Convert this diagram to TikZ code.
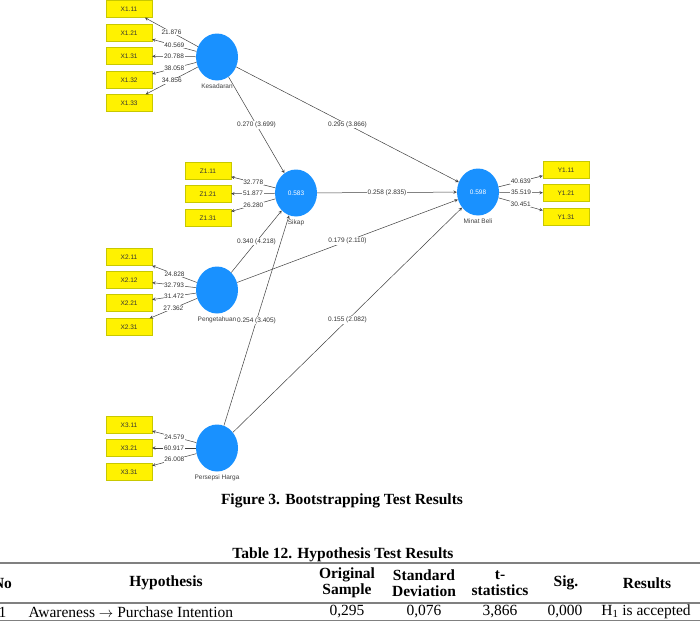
\documentclass[tikz,border=0pt]{standalone}
\usepackage{fontspec}
\setmainfont{Liberation Serif}
\setsansfont{Liberation Sans}
\usetikzlibrary{positioning,arrows,shapes.geometric}

\definecolor{lvblue}{RGB}{25,145,255}
\definecolor{boxline}{RGB}{200,200,0}
\newcommand{\plsfont}{\sffamily\fontsize{6.5}{7.5}\selectfont}
\newcommand{\tabfont}{\fontsize{15.5}{16}\selectfont}

\begin{document}
\begin{tikzpicture}[x=1pt,y=-1pt,
  lv/.style={ellipse,fill=lvblue,minimum width=42pt,minimum height=47pt,inner sep=0pt,text=white,font=\plsfont,label distance=1pt},
  lvname/.style={font=\plsfont,text=black!75},
  ind/.style={rectangle,draw=boxline,fill=yellow,minimum width=46pt,minimum height=17pt,inner sep=0pt,font=\plsfont,text=black!80},
  load/.style={-stealth,black!75,line width=0.5pt},
  path/.style={-stealth,black!75,line width=0.5pt},
  plab/.style={fill=white,inner sep=0.6pt,font=\plsfont,text=black!80},
  rule/.style={gray,line width=1.2pt}]
\useasboundingbox (0,0) rectangle (700,621);

% latent variables
\node[lv,label={[lvname]below:Kesadaran}] (kes) at (217,57) {};
\node[lv,label={[lvname]below:Sikap}] (sikap) at (296,193) {0.583};
\node[lv,label={[lvname]below:Pengetahuan}] (peng) at (217,290) {};
\node[lv,label={[lvname]below:Persepsi Harga}] (harga) at (217,448) {};
\node[lv,label={[lvname]below:Minat Beli}] (minat) at (478,192) {0.598};

% indicators
\node[ind] (x111) at (129,9) {X1.11};
\node[ind] (x121) at (129,33) {X1.21};
\node[ind] (x131) at (129,56) {X1.31};
\node[ind] (x132) at (129,80) {X1.32};
\node[ind] (x133) at (129,103) {X1.33};
\node[ind] (z111) at (208,171) {Z1.11};
\node[ind] (z121) at (208,194) {Z1.21};
\node[ind] (z131) at (208,218) {Z1.31};
\node[ind] (x211) at (129,257) {X2.11};
\node[ind] (x212) at (129,280) {X2.12};
\node[ind] (x221) at (129,303) {X2.21};
\node[ind] (x231) at (129,327) {X2.31};
\node[ind] (x311) at (129,425) {X3.11};
\node[ind] (x321) at (129,448) {X3.21};
\node[ind] (x331) at (129,472) {X3.31};
\node[ind] (y111) at (566,170) {Y1.11};
\node[ind] (y121) at (566,193) {Y1.21};
\node[ind] (y131) at (566,217) {Y1.31};

% outer loadings
\draw[load] (kes) -- node[plab] {21.876} (x111);
\draw[load] (kes) -- node[plab] {40.569} (x121);
\draw[load] (kes) -- node[plab] {20.788} (x131);
\draw[load] (kes) -- node[plab] {38.058} (x132);
\draw[load] (kes) -- node[plab] {34.856} (x133);
\draw[load] (sikap) -- node[plab] {32.778} (z111);
\draw[load] (sikap) -- node[plab] {51.877} (z121);
\draw[load] (sikap) -- node[plab] {26.280} (z131);
\draw[load] (peng) -- node[plab] {24.828} (x211);
\draw[load] (peng) -- node[plab] {32.793} (x212);
\draw[load] (peng) -- node[plab] {31.472} (x221);
\draw[load] (peng) -- node[plab] {27.362} (x231);
\draw[load] (harga) -- node[plab] {24.579} (x311);
\draw[load] (harga) -- node[plab] {60.917} (x321);
\draw[load] (harga) -- node[plab] {26.008} (x331);
\draw[load] (minat) -- node[plab] {40.639} (y111);
\draw[load] (minat) -- node[plab] {35.519} (y121);
\draw[load] (minat) -- node[plab] {30.451} (y131);

% inner model
\draw[path] (kes) -- node[plab] {0.270 (3.699)} (sikap);
\draw[path] (kes) -- node[plab] {0.295 (3.866)} (minat);
\draw[path] (sikap) -- node[plab] {0.258 (2.835)} (minat);
\draw[path] (peng) -- node[plab] {0.340 (4.218)} (sikap);
\draw[path] (peng) -- node[plab] {0.179 (2.110)} (minat);
\draw[path] (harga) -- node[plab] {0.254 (3.405)} (sikap);
\draw[path] (harga) -- node[plab] {0.155 (2.082)} (minat);

% caption and table
\node[font=\tabfont\bfseries] (cap) at (342,501) {Figure 3. Bootstrapping Test Results};
\node[font=\tabfont\bfseries] (ttl) at (343,555) {Table 12. Hypothesis Test Results};
\draw[rule] (0,563) -- (700,563);
\draw[rule] (0,603) -- (700,603);
\draw[rule] (0,620.5) -- (700,620.5);
\node[font=\tabfont\bfseries] at (2.5,583) {No};
\node[font=\tabfont\bfseries] at (166,583) {Hypothesis};
\node[font=\tabfont\bfseries,align=center] at (347,583) {Original\\Sample};
\node[font=\tabfont\bfseries,align=center] at (424,583) {Standard\\Deviation};
\node[font=\tabfont\bfseries,align=center] at (500,583) {t-\\statistics};
\node[font=\tabfont\bfseries] at (566,583) {Sig.};
\node[font=\tabfont\bfseries] at (647,583) {Results};
\node[font=\tabfont] at (2.5,612) {1};
\node[font=\tabfont,anchor=west] at (25,612) {Awareness $\rightarrow$ Purchase Intention};
\node[font=\tabfont] at (347,612) {0,295};
\node[font=\tabfont] at (424,612) {0,076};
\node[font=\tabfont] at (500,612) {3,866};
\node[font=\tabfont] at (565,612) {0,000};
\node[font=\tabfont] at (646,612) {H\textsubscript{1} is accepted};
\end{tikzpicture}
\end{document}
